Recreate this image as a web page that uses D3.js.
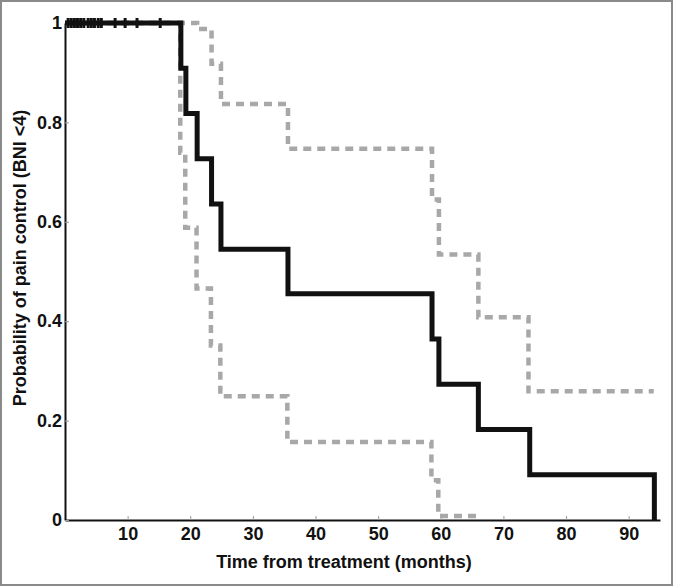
<!DOCTYPE html>
<html>
<head>
<meta charset="utf-8">
<script src="https://cdn.jsdelivr.net/npm/d3@7"></script>
<style>
html,body{margin:0;padding:0;background:#fff;}
svg{display:block;}
text{font-family:Arial,"Liberation Sans",sans-serif;font-weight:bold;fill:#111;}
</style>
</head>
<body>
<svg id="chart" width="674" height="588"></svg>
<script>
// Kaplan-Meier estimate (black)
const kmTimes = [0, 18.5, 19.3, 21.1, 23.4, 24.9, 35.6, 58.6, 59.7, 66.0, 74.2, 94.1];
const kmSurv  = [1, 0.909, 0.818, 0.727, 0.636, 0.545, 0.455, 0.364, 0.273, 0.182, 0.091, 0];
// Upper confidence bound (grey dashed)
const upperTimes = [0, 21.1, 23.4, 24.9, 35.6, 58.6, 59.7, 66.0, 74.0, 94.0];
const upperVals  = [1, 0.988, 0.918, 0.837, 0.747, 0.645, 0.534, 0.408, 0.259, 0.259];
// Lower confidence bound (grey dashed)
const lowerTimes = [0, 18.4, 19.2, 21.0, 23.3, 24.8, 35.5, 58.5, 59.6, 66.0];
const lowerVals  = [1, 0.739, 0.588, 0.466, 0.351, 0.249, 0.157, 0.080, 0.008, 0.008];
// Censored observations
const censorTimes = [0.5, 1.0, 1.5, 2.0, 2.5, 3.0, 3.7, 4.2, 4.7, 5.3, 5.8, 8.0, 9.6, 11.5, 15.2];
// Axis ticks
const xTicks = [10, 20, 30, 40, 50, 60, 70, 80, 90];
const yTicks = [0, 0.2, 0.4, 0.6, 0.8, 1];
const yTickLabels = ["0", "0.2", "0.4", "0.6", "0.8", "1"];
const xTitle = "Time from treatment (months)";
const yTitle = "Probability of pain control (BNI <4)";

const svg = d3.select("#chart");
const x = d3.scaleLinear().domain([0, 95]).range([65, 660]);
const y = d3.scaleLinear().domain([0, 1]).range([520, 23]);
const FONT = "Arial, 'Liberation Sans', sans-serif";

// frame
svg.append("rect").attr("x", 1).attr("y", 1).attr("width", 671).attr("height", 584)
  .attr("fill", "none").attr("stroke", "#8a8a8a").attr("stroke-width", 2);

const line = d3.line().x(d => x(d[0])).y(d => y(d[1])).curve(d3.curveStepAfter);

// x axis
const xAxis = svg.append("g").attr("transform", `translate(0,${y(0)})`)
  .call(d3.axisBottom(x).tickValues(xTicks).tickSize(-4).tickPadding(7).tickSizeOuter(0));
xAxis.select(".domain").attr("stroke", "#111").attr("stroke-width", 2);
xAxis.selectAll(".tick line").attr("stroke", "#999").attr("stroke-width", 1);
xAxis.selectAll(".tick text").attr("font-size", 18).attr("font-family", FONT).attr("font-weight", "bold").attr("fill", "#111");

// y axis
const yAxis = svg.append("g").attr("transform", `translate(${x(0)},0)`)
  .call(d3.axisLeft(y).tickValues(yTicks).tickFormat((d, i) => yTickLabels[i]).tickSize(-4).tickPadding(3).tickSizeOuter(0));
yAxis.select(".domain").attr("stroke", "#111").attr("stroke-width", 2);
yAxis.selectAll(".tick line").attr("stroke", "#999").attr("stroke-width", 1);
yAxis.selectAll(".tick text").attr("font-size", 18).attr("font-family", FONT).attr("font-weight", "bold").attr("fill", "#111");

// grey dashed confidence bounds
const upperData = upperTimes.map((t, i) => [t, upperVals[i]]);
const lowerData = lowerTimes.map((t, i) => [t, lowerVals[i]]);
[upperData, lowerData].forEach(d => {
  svg.append("path").attr("d", line(d)).attr("fill", "none")
    .attr("stroke", "#a8a8a8").attr("stroke-width", 4.5)
    .attr("stroke-dasharray", "8,6");
});

// KM line
const kmData = kmTimes.map((t, i) => [t, kmSurv[i]]);
svg.append("path").attr("d", line(kmData)).attr("fill", "none")
  .attr("stroke", "#111").attr("stroke-width", 5).attr("stroke-linejoin", "miter");

// censor marks
svg.selectAll(".cens").data(censorTimes).enter().append("line")
  .attr("x1", d => x(d)).attr("x2", d => x(d))
  .attr("y1", y(1) - 5).attr("y2", y(1) + 5)
  .attr("stroke", "#111").attr("stroke-width", 3);

// titles
svg.append("text").attr("x", 344).attr("y", 568).attr("text-anchor", "middle")
  .attr("font-size", 18).text(xTitle);
svg.append("text").attr("transform", "translate(26,258) rotate(-90)").attr("text-anchor", "middle")
  .attr("font-size", 18).text(yTitle);
</script>
</body>
</html>
